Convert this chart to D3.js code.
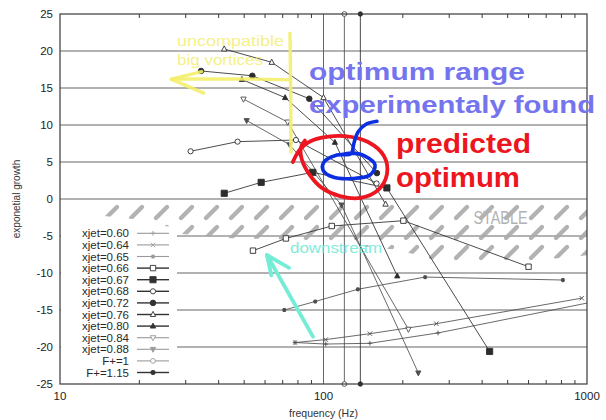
<!DOCTYPE html>
<html>
<head>
<meta charset="utf-8">
<script src="https://cdn.jsdelivr.net/npm/d3@7"></script>
<style>
  body { margin: 0; background: #fff; }
  text { font-family: "Liberation Sans", Arial, sans-serif; }
</style>
</head>
<body>
<svg id="chart" width="606" height="420"></svg>
<script>
// ---- axis ticks ----
const yTicks = [-25, -20, -15, -10, -5, 0, 5, 10, 15, 20, 25];
const xTicks = [10, 100, 1000];
const xMinorTicks = [20, 30, 40, 50, 60, 70, 80, 90, 200, 300, 400, 500, 600, 700, 800, 900];
const xGrid = [100];
const yGrid = [-20, -15, -10, -5, 0, 5, 10, 15, 20];

// ---- series: [frequency (Hz), exponential growth] ----
const xjet060 = [[78, -19.4], [102, -19.6], [150, -19.5], [272, -18.1], [1200, -13.5]];
const xjet064 = [[78, -19.4], [102, -19.0], [150, -18.2], [268, -16.85], [955, -13.4]];
const xjet065 = [[71, -15.0], [93, -13.85], [135, -12.2], [243, -10.55], [810, -10.95]];
const xjet066 = [[54, -6.98], [72, -5.33], [107.5, -3.65], [201, -2.93], [600, -9.15]];
const xjet067 = [[42, 0.77], [58, 2.25], [91, 3.6], [174, 1.5], [427, -20.6]];
const xjet068 = [[31.3, 6.45], [47.2, 7.75], [78.6, 7.97], [159, 2.1]];
const xjet072 = [[34.3, 17.3], [53.7, 16.65], [88.3, 13.55], [159.5, 3.5]];
const xjet076 = [[42, 20.27], [63.6, 18.47], [100, 13.7], [172, -0.7]];
const xjet080 = [[49, 16.15], [71.5, 13.7], [110.5, 7.65], [190.5, -10.4]];
const xjet084 = [[49.7, 13.5], [73.1, 10.4], [210, -17.6]];
const xjet088 = [[51.1, 10.6], [74.3, 7.35], [117, -0.8], [229, -23.5]];
const fPlus100 = [[120, -25], [120, 25]];
const fPlus115 = [[138, -25], [138, 25]];

const seriesLabels = ["xjet=0.60", "xjet=0.64", "xjet=0.65", "xjet=0.66", "xjet=0.67", "xjet=0.68",
  "xjet=0.72", "xjet=0.76", "xjet=0.80", "xjet=0.84", "xjet=0.88", "F+=1", "F+=1.15"];
const seriesValues = [xjet060, xjet064, xjet065, xjet066, xjet067, xjet068,
  xjet072, xjet076, xjet080, xjet084, xjet088, fPlus100, fPlus115];

// point style per series (shape, filled, half size, tone)
const pointStyles = [
  { shape: "plus", filled: false, r: 2.4, tone: "light" },
  { shape: "times", filled: false, r: 2.2, tone: "light" },
  { shape: "star", filled: true, r: 2.1, tone: "light" },
  { shape: "square", filled: false, r: 2.7, tone: "dark" },
  { shape: "square", filled: true, r: 3.1, tone: "dark" },
  { shape: "circle", filled: false, r: 2.6, tone: "dark" },
  { shape: "circle", filled: true, r: 2.8, tone: "dark" },
  { shape: "tri", filled: false, r: 2.7, tone: "dark" },
  { shape: "tri", filled: true, r: 2.6, tone: "dark" },
  { shape: "itri", filled: false, r: 2.7, tone: "light" },
  { shape: "itri", filled: true, r: 2.6, tone: "light" },
  { shape: "circle", filled: false, r: 2.4, tone: "light" },
  { shape: "circle", filled: true, r: 2.2, tone: "dark" }
];
const plotTones = { dark: "#2c2c2c", light: "#4e4e4e" };
const keyTones = { dark: "#333333", light: "#9a9a9a" };

// ---- hand-drawn annotations, in data units ----
const stableZone = [[14.7, -0.4], [1000, -0.4], [1000, -7.6], [555, -8.5], [278, -8.5], [194, -6.9],
  [81, -5.5], [44.2, -5.3], [28.5, -4.7], [20.1, -2.8], [14.7, -2.3]];
const yellowBar = [[74.6, 22.4], [75.2, 14.0], [75.2, 6.35]];
const yellowArrow = [[74.6, 16.1], [50, 16.25], [26.4, 16.2]];
const yellowHead = [[34.5, 17.2], [26.4, 16.2], [35.1, 14.3]];
const redLoop = [[76.5, 5.0], [81, 6.6], [87, 7.6], [98.6, 8.3], [120.6, 8.5], [147.6, 7.7], [169.7, 5.8],
  [174.2, 3.4], [161, 1.2], [137.6, 0.14], [115.5, 0.4], [98.6, 1.5], [88.1, 3.4], [82.8, 5.3], [82, 6.9], [85, 7.9]];
const blueLoop = [[159.6, 10.5], [144.9, 10.1], [135.2, 9.05], [130.6, 7.6], [127, 6.1], [112.5, 5.95],
  [100.4, 5.0], [99.6, 3.9], [108.6, 2.97], [128.3, 2.77], [150.2, 3.24], [156.9, 4.6], [143.7, 5.8], [127, 6.2], [118, 6.0]];
const cyanArrow = [[91.2, -18.6], [61.0, -7.57]];
const cyanHead = [[63.4, -10.3], [61.0, -7.57], [74, -9.3]];

// ---- layout ----
const plot = { left: 60, right: 587, top: 14, bottom: 384 };
const x = d3.scaleLog().domain([10, 1000]).range([plot.left, plot.right]);
const y = d3.scaleLinear().domain([-25, 25]).range([plot.bottom, plot.top]);
const svg = d3.select("#chart");
const defs = svg.append("defs");

defs.append("clipPath").attr("id", "plotClip")
  .append("rect")
  .attr("x", plot.left).attr("y", plot.top - 4)
  .attr("width", plot.right - plot.left).attr("height", plot.bottom - plot.top + 8);

// sparse slanted strokes for the stable zone
const hatch = defs.append("pattern").attr("id", "hatch")
  .attr("patternUnits", "userSpaceOnUse")
  .attr("width", 25).attr("height", 20)
  .attr("patternTransform", "translate(0,2)");
hatch.append("line")
  .attr("x1", 6).attr("y1", 16).attr("x2", 17).attr("y2", 5)
  .attr("stroke", "#a9a9a9").attr("stroke-width", 4.4).attr("stroke-linecap", "round");

function markerPath(shape, r) {
  switch (shape) {
    case "plus": return `M${-r},0H${r}M0,${-r}V${r}`;
    case "times": return `M${-r},${-r}L${r},${r}M${-r},${r}L${r},${-r}`;
    case "star": {
      const q = r * 0.72;
      return `M${-r},0H${r}M0,${-r}V${r}M${-q},${-q}L${q},${q}M${-q},${q}L${q},${-q}`;
    }
    case "square": return `M${-r},${-r}H${r}V${r}H${-r}Z`;
    case "circle": return `M${r},0A${r},${r} 0 1,1 ${-r},0A${r},${r} 0 1,1 ${r},0Z`;
    case "tri": return `M0,${-r * 1.15}L${r},${r * 0.75}L${-r},${r * 0.75}Z`;
    case "itri": return `M0,${r * 1.15}L${r},${-r * 0.75}L${-r},${-r * 0.75}Z`;
  }
}

function drawMarker(sel, st, c) {
  sel.append("path")
    .attr("d", markerPath(st.shape, st.r))
    .attr("fill", st.filled ? c : (st.shape === "plus" || st.shape === "times" ? "none" : "#fff"))
    .attr("stroke", c)
    .attr("stroke-width", st.shape === "star" ? 1.2 : 0.9);
}

// ---- grid ----
const gridG = svg.append("g");
gridG.selectAll("line.hg").data(yGrid).join("line")
  .attr("x1", plot.left).attr("x2", plot.right)
  .attr("y1", d => y(d)).attr("y2", d => y(d))
  .attr("stroke", "#666").attr("stroke-width", 1.1);
gridG.selectAll("line.vg").data(xGrid).join("line")
  .attr("x1", d => x(d)).attr("x2", d => x(d))
  .attr("y1", plot.top).attr("y2", plot.bottom)
  .attr("stroke", "#666").attr("stroke-width", 1);

// ---- stable zone hatching ----
const areaLine = d3.line().x(d => x(d[0])).y(d => y(d[1]));
svg.append("path")
  .attr("d", areaLine(stableZone) + "Z")
  .attr("fill", "url(#hatch)")
  .attr("opacity", 0.9);

// ---- legend backdrop (hides grid behind the key) ----
const legendTop = 233.3, legendStep = 11.6;
svg.append("rect")
  .attr("x", plot.left + 1).attr("y", legendTop - 7)
  .attr("width", 116).attr("height", legendStep * 12 + 15)
  .attr("fill", "#fff");

// ---- series ----
const dataG = svg.append("g").attr("clip-path", "url(#plotClip)");
const lineGen = d3.line().x(d => x(d[0])).y(d => y(d[1]));
seriesValues.forEach((vals, i) => {
  const st = pointStyles[i];
  dataG.append("path")
    .attr("d", lineGen(vals))
    .attr("fill", "none")
    .attr("stroke", plotTones[st.tone])
    .attr("stroke-width", 0.85);
});
seriesValues.forEach((vals, i) => {
  const st = pointStyles[i];
  vals.forEach(v => {
    const g = dataG.append("g").attr("transform", `translate(${x(v[0])},${y(v[1])})`);
    drawMarker(g, st, plotTones[st.tone]);
  });
});

// ---- frame & ticks ----
svg.append("rect")
  .attr("x", plot.left).attr("y", plot.top)
  .attr("width", plot.right - plot.left).attr("height", plot.bottom - plot.top)
  .attr("fill", "none").attr("stroke", "#3a3a3a").attr("stroke-width", 1.2);

const tickG = svg.append("g").attr("stroke", "#3a3a3a").attr("stroke-width", 1);
xMinorTicks.forEach(t => {
  tickG.append("line").attr("x1", x(t)).attr("x2", x(t)).attr("y1", plot.bottom).attr("y2", plot.bottom - 4);
  tickG.append("line").attr("x1", x(t)).attr("x2", x(t)).attr("y1", plot.top).attr("y2", plot.top + 4);
});

svg.append("g").selectAll("text").data(yTicks).join("text")
  .attr("x", plot.left - 7).attr("y", d => y(d)).attr("dy", "0.36em")
  .attr("text-anchor", "end").attr("font-size", 11.5).attr("fill", "#222")
  .text(d => d);
svg.append("g").selectAll("text").data(xTicks).join("text")
  .attr("x", d => x(d)).attr("y", 400)
  .attr("text-anchor", "middle").attr("font-size", 11.5).attr("fill", "#222")
  .text(d => d);

svg.append("text")
  .attr("x", (plot.left + plot.right) / 2).attr("y", 416.5)
  .attr("text-anchor", "middle").attr("font-size", 10.5).attr("fill", "#333")
  .text("frequency (Hz)");
svg.append("text")
  .attr("transform", `translate(20,${(plot.top + plot.bottom) / 2}) rotate(-90)`)
  .attr("text-anchor", "middle").attr("font-size", 10).attr("fill", "#333")
  .text("exponetial growth");

// ---- legend ----
const legendG = svg.append("g");
seriesLabels.forEach((lab, i) => {
  const st = pointStyles[i];
  const ly = legendTop + i * legendStep;
  legendG.append("text")
    .attr("x", 129).attr("y", ly).attr("dy", "0.35em")
    .attr("text-anchor", "end").attr("font-size", 11.5).attr("fill", "#2a2a2a")
    .text(lab);
  legendG.append("line")
    .attr("x1", 137).attr("x2", 169).attr("y1", ly).attr("y2", ly)
    .attr("stroke", keyTones[st.tone]).attr("stroke-width", st.tone === "dark" ? 1.4 : 1.1);
  drawMarker(legendG.append("g").attr("transform", `translate(153,${ly})`), st, keyTones[st.tone]);
});

// ---- annotations ----
const stroke = (pts, color, w, curve) => svg.append("path")
  .attr("d", d3.line().x(d => x(d[0])).y(d => y(d[1])).curve(curve || d3.curveLinear)(pts))
  .attr("fill", "none").attr("stroke", color).attr("stroke-width", w)
  .attr("stroke-linecap", "round").attr("stroke-linejoin", "round");

// stable label
svg.append("text")
  .attr("x", 473.5).attr("y", 224).attr("font-size", 17.5)
  .attr("textLength", 54).attr("lengthAdjust", "spacingAndGlyphs")
  .attr("fill", "#b2b2b2").text("STABLE");

// yellow remark
const yellow = "#f3ee6c";
stroke(yellowBar, yellow, 3.4, d3.curveBasis).attr("opacity", 0.9);
stroke(yellowArrow, yellow, 3.4, d3.curveBasis).attr("opacity", 0.9);
stroke(yellowHead, yellow, 3.4).attr("opacity", 0.9);
svg.append("text").attr("x", 177).attr("y", 45.5).attr("font-size", 15.5)
  .attr("font-family", "DejaVu Sans, sans-serif").attr("font-weight", 300)
  .attr("textLength", 107).attr("lengthAdjust", "spacingAndGlyphs")
  .attr("fill", yellow).attr("opacity", 0.8).text("uncompatible");
svg.append("text").attr("x", 177).attr("y", 65).attr("font-size", 15.5)
  .attr("font-family", "DejaVu Sans, sans-serif").attr("font-weight", 300)
  .attr("textLength", 86).attr("lengthAdjust", "spacingAndGlyphs")
  .attr("fill", yellow).attr("opacity", 0.8).text("big vortices");

// blue remark
const lilac = "#7474ee";
svg.append("text").attr("x", 309).attr("y", 80).attr("font-size", 24)
  .attr("font-family", "DejaVu Sans, sans-serif").attr("font-weight", "bold")
  .attr("textLength", 216).attr("lengthAdjust", "spacingAndGlyphs")
  .attr("fill", lilac).text("optimum range");
svg.append("text").attr("x", 309).attr("y", 113.3).attr("font-size", 24)
  .attr("font-family", "DejaVu Sans, sans-serif").attr("font-weight", "bold")
  .attr("textLength", 286).attr("lengthAdjust", "spacingAndGlyphs")
  .attr("fill", lilac).text("experimentaly found");

// red remark
const red = "#ec1520";
svg.append("text").attr("x", 396).attr("y", 153.3).attr("font-size", 28)
  .attr("font-family", "DejaVu Sans, sans-serif").attr("font-weight", "bold")
  .attr("textLength", 135).attr("lengthAdjust", "spacingAndGlyphs")
  .attr("fill", red).text("predicted");
svg.append("text").attr("x", 396).attr("y", 186.7).attr("font-size", 28)
  .attr("font-family", "DejaVu Sans, sans-serif").attr("font-weight", "bold")
  .attr("textLength", 124).attr("lengthAdjust", "spacingAndGlyphs")
  .attr("fill", red).text("optimum");
stroke(redLoop, red, 3.8, d3.curveCatmullRom);
stroke(blueLoop, "#0b2fe0", 3.6, d3.curveCatmullRom);

// downstream remark
const aqua = "#74ecd6";
svg.append("text").attr("x", 290).attr("y", 253).attr("font-size", 15)
  .attr("font-family", "DejaVu Sans, sans-serif").attr("font-weight", 300)
  .attr("textLength", 92).attr("lengthAdjust", "spacingAndGlyphs")
  .attr("fill", aqua).attr("opacity", 0.9).text("downstream");
stroke(cyanArrow, aqua, 3.8);
stroke(cyanHead, aqua, 3.8);
</script>
</body>
</html>
